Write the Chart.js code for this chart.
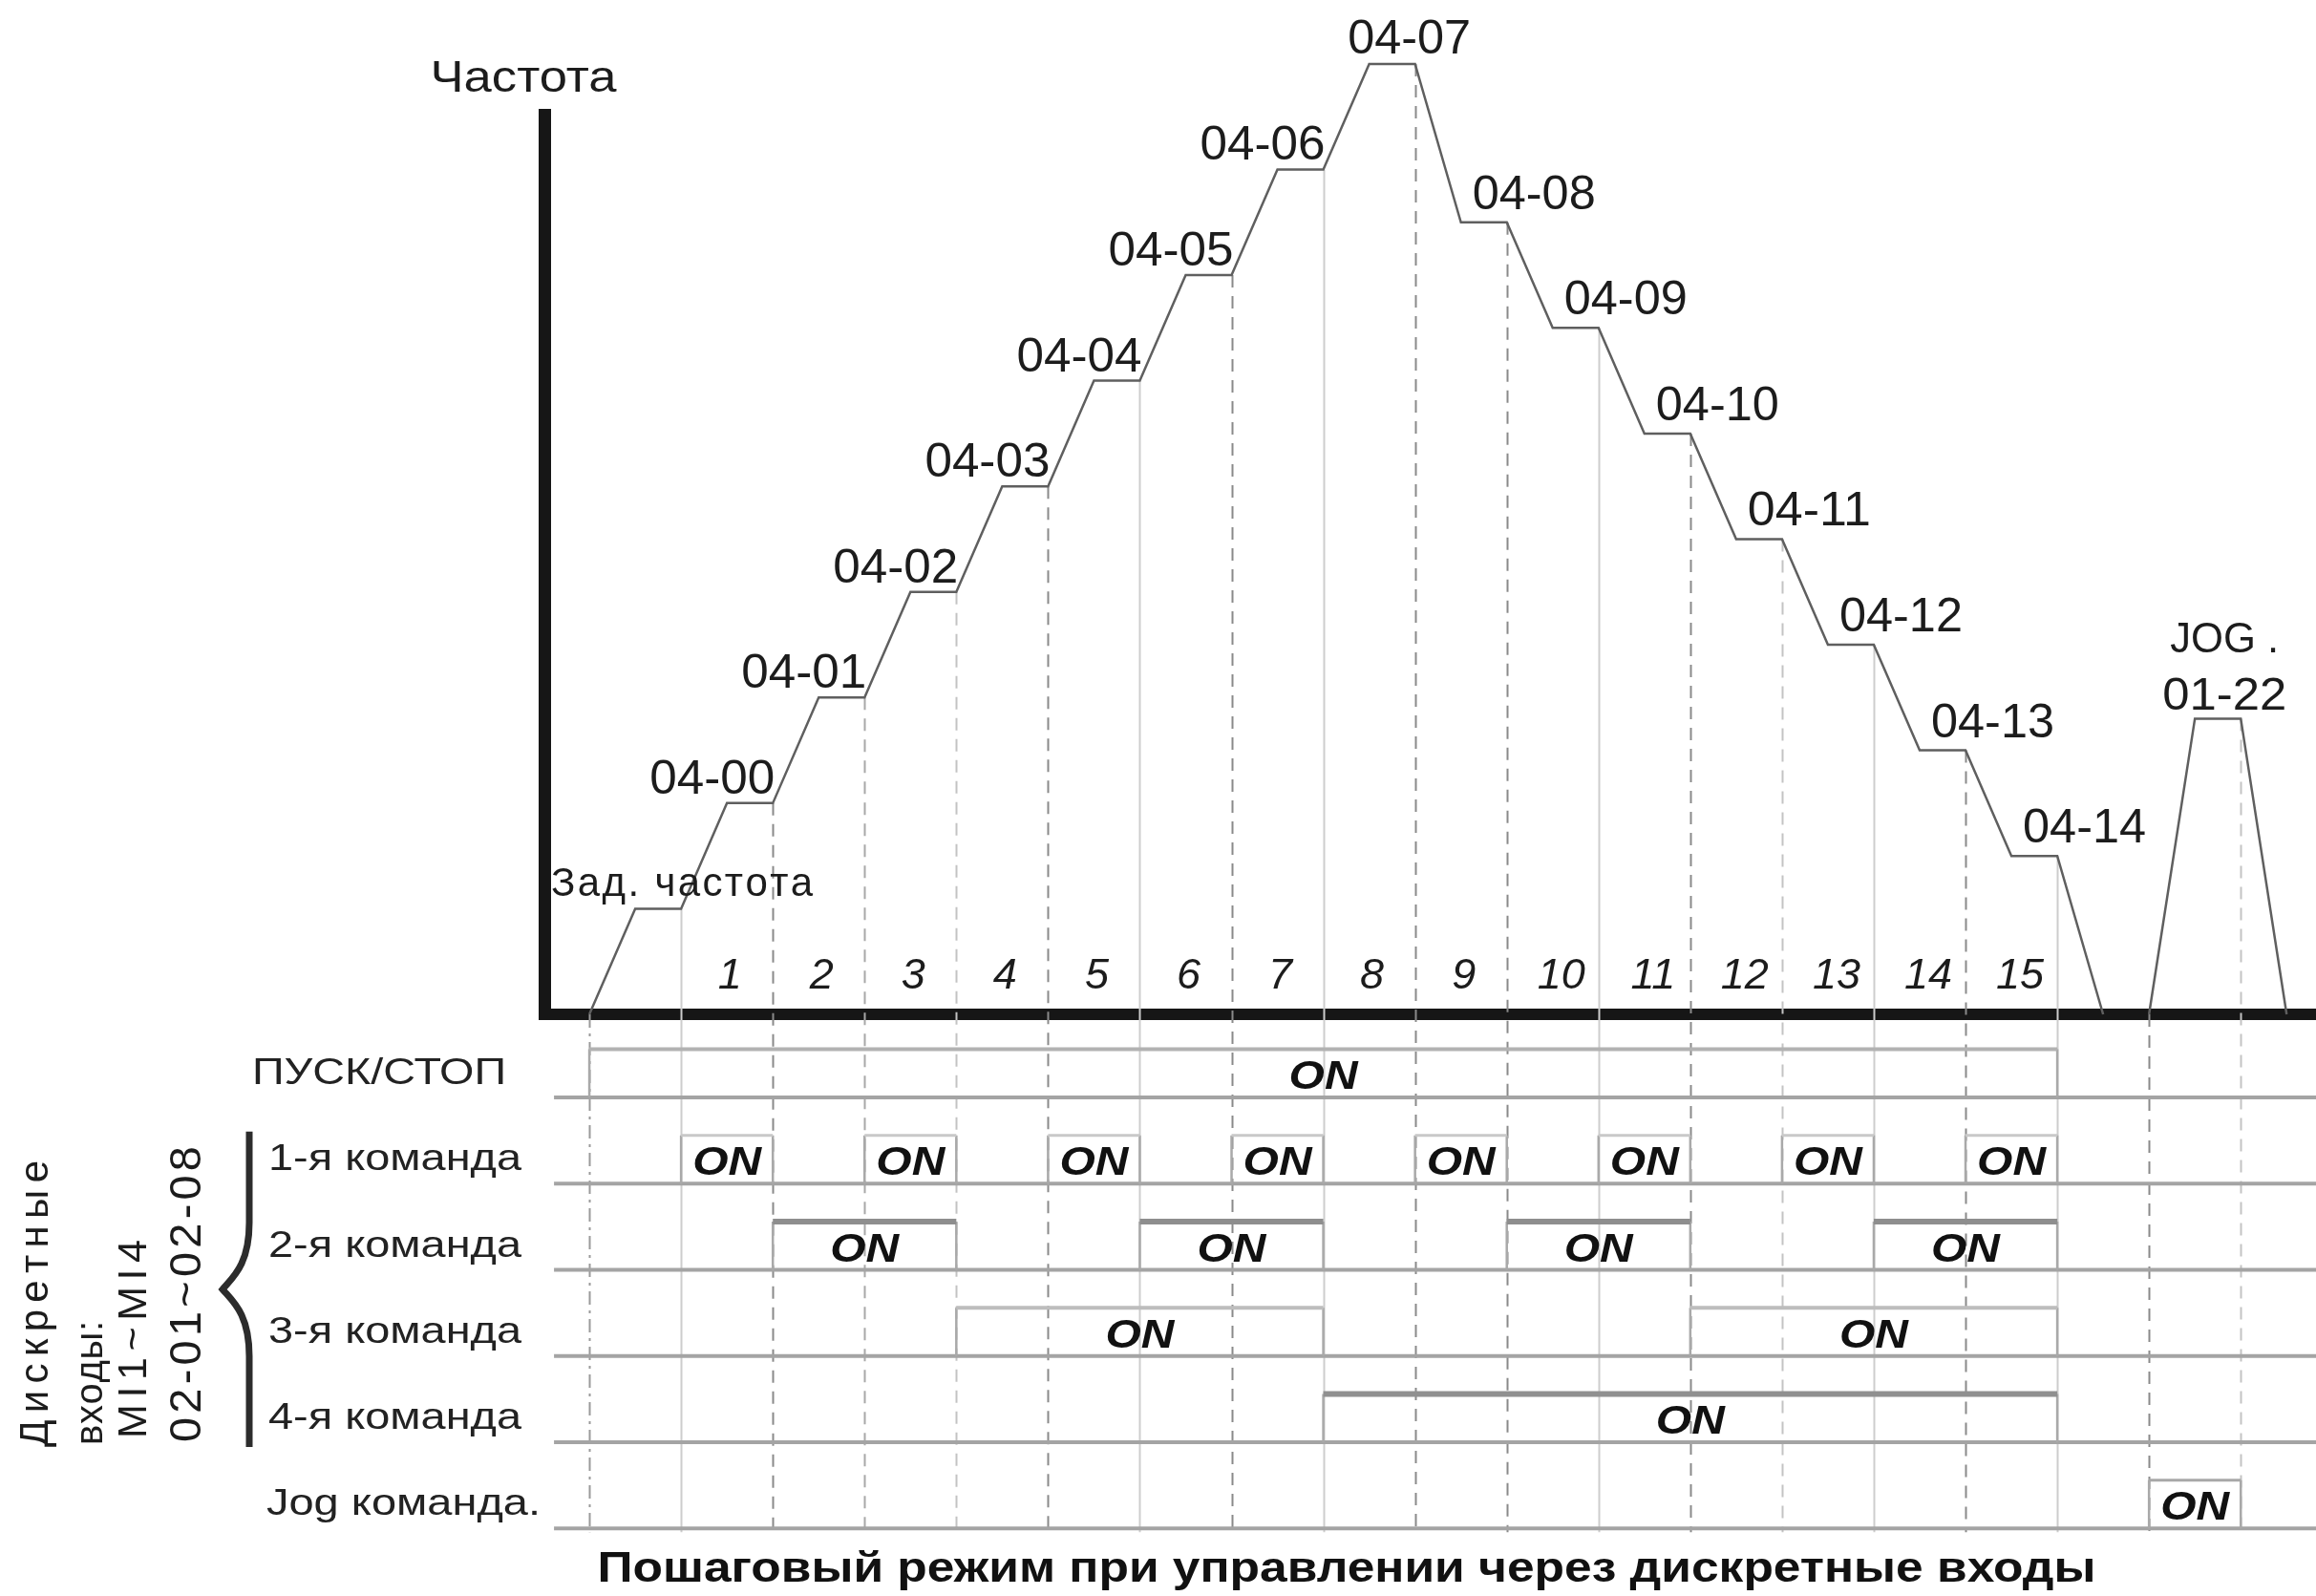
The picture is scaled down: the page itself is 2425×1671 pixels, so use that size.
<!DOCTYPE html>
<html><head><meta charset="utf-8">
<script src="https://cdn.jsdelivr.net/npm/chart.js@4/dist/chart.umd.min.js"></script>
<style>html,body{margin:0;padding:0;background:#fff;overflow:hidden}#wrap{position:relative;width:2425px;height:1671px}</style>
</head><body><div id="wrap"><canvas id="c" width="2425" height="1671"></canvas></div>
<script>
// ---------------- data ----------------
const stepLabels = ['Зад. частота','04-00','04-01','04-02','04-03','04-04','04-05','04-06','04-07','04-08','04-09','04-10','04-11','04-12','04-13','04-14'];
const stepLevels = [1.0, 2.0, 3.0, 4.0, 5.0, 6.0, 7.0, 8.0, 9.0, 7.5, 6.5, 5.5, 4.5, 3.5, 2.5, 1.5];
const stepNumbers = ['1','2','3','4','5','6','7','8','9','10','11','12','13','14','15'];
const rampTime = 0.5;
const jogLabel = ['JOG .','01-22'];
const jogLevel = 2.8;
const axisTitle = 'Частота';
const rowLabels = ['ПУСК/СТОП','1-я команда','2-я команда','3-я команда','4-я команда','Jog команда.'];
const runStopOn = [[0,16]];
const cmd1On = [[1,2],[3,4],[5,6],[7,8],[9,10],[11,12],[13,14],[15,16]];
const cmd2On = [[2,4],[6,8],[10,12],[14,16]];
const cmd3On = [[4,8],[12,16]];
const cmd4On = [[8,16]];
const jogOn = [[17,18]];
const onText = 'ON';
const sideTitle = ['Дискретные','входы:','MI1~MI4','02-01~02-08'];
const chartTitle = 'Пошаговый режим при управлении через дискретные входы';

// ---------------- layout / style constants ----------------
const FONT = "'Liberation Sans', Arial, sans-serif";
const X_MIN = -0.49, X_MAX = 18.82;
const Y_MAX = 8.52;
const ROW_MIN = -10.40, ROW_MAX = 0.036;
const PULSE_HIGH = 0.56;
const ROW_LINE_START = -0.385;
const rowSignals = [runStopOn, cmd1On, cmd2On, cmd3On, cmd4On, jogOn];
const topStyle = [
  {c:'#b2b2b2', w:4}, {c:'#c9c9c9', w:3}, {c:'#8e8e8e', w:6},
  {c:'#bdbdbd', w:4}, {c:'#909090', w:6}, {c:'#a8a8a8', w:3}
];
const guideStyle = ['dd','ls','d','m','l','d','ls','d','ls','d','d','ls','d','l','ls','d','ls','d','l'];

// ---------------- build datasets ----------------
const profile = [{x:0, y:0}];
stepLevels.forEach((v, k) => { profile.push({x:k + rampTime, y:v}, {x:k + 1, y:v}); });
profile.push({x:stepLevels.length + rampTime, y:0});
profile.push({x:stepLevels.length + rampTime + 0.1, y:null});
jogOn.forEach(([a,b]) => { profile.push({x:a, y:0}, {x:a + rampTime, y:jogLevel}, {x:b, y:jogLevel}, {x:b + rampTime, y:0}); });

const datasets = [];
datasets.push({label:'freq', data:profile, yAxisID:'y', borderColor:'#5f5f5f', borderWidth:2.5,
  pointRadius:0, tension:0, spanGaps:false, clip:false, order:1});

rowSignals.forEach((ons, i) => {
  const v = i + 1;
  const base = [{x:ROW_LINE_START, y:v}, {x:X_MAX, y:v}];
  datasets.push({label:'base'+i, data:base, yAxisID:'yRow', borderColor:'#a4a4a4', borderWidth:4,
    pointRadius:0, clip:false, order:10});
  const tops = [], sides = [];
  ons.forEach(([a,b]) => {
    tops.push({x:a, y:v - PULSE_HIGH}, {x:b, y:v - PULSE_HIGH}, {x:b, y:null});
    sides.push({x:a, y:v}, {x:a, y:v - PULSE_HIGH}, {x:a, y:null}, {x:b, y:v - PULSE_HIGH}, {x:b, y:v}, {x:b, y:null});
  });
  datasets.push({label:'top'+i, data:tops, yAxisID:'yRow', borderColor:topStyle[i].c, borderWidth:topStyle[i].w,
    pointRadius:0, spanGaps:false, clip:false, order:5});
  datasets.push({label:'side'+i, data:sides, yAxisID:'yRow', borderColor:'#a9a9a9', borderWidth:2.5,
    pointRadius:0, spanGaps:false, clip:false, order:6});
});

// ---------------- helpers ----------------
// draws text fitted to a target width: 'ls' mode uses letter spacing, default mode stretches horizontally
function drawText(ctx, s, x, y, o) {
  ctx.save();
  ctx.font = o.font;
  ctx.fillStyle = o.color || '#1c1c1c';
  ctx.textBaseline = 'alphabetic';
  ctx.textAlign = 'left';
  const chars = Array.from(s);
  ctx.translate(x, y);
  if (o.rotate) ctx.rotate(o.rotate);
  if (o.mode === 'ls') {
    const cw = chars.map(ch => ctx.measureText(ch).width);
    const sum = cw.reduce((a,b) => a + b, 0);
    const ls = o.width ? (o.width - sum) / Math.max(1, chars.length - 1) : 0;
    const w = o.width || sum;
    let cx = o.align === 'center' ? -w / 2 : (o.align === 'right' ? -w : 0);
    chars.forEach((ch, i) => { ctx.fillText(ch, cx, 0); cx += cw[i] + ls; });
  } else {
    const nat = ctx.measureText(s).width;
    const w = o.width || nat;
    const sx = w / nat;
    const x0 = o.align === 'center' ? -w / 2 : (o.align === 'right' ? -w : 0);
    ctx.translate(x0, 0);
    ctx.scale(sx, 1);
    ctx.fillText(s, 0, 0);
  }
  ctx.restore();
}

const guidePlugin = {
  id: 'guides',
  beforeDatasetsDraw(chart) {
    const ctx = chart.ctx, xs = chart.scales.x, ys = chart.scales.y, yr = chart.scales.yRow;
    const bounds = [], tops = [];
    for (let k = 0; k <= stepLevels.length; k++) { bounds.push(k); tops.push(k === 0 ? 0 : stepLevels[k - 1]); }
    jogOn.forEach(([a,b]) => { bounds.push(a, b); tops.push(0, jogLevel); });
    const yBottom = yr.getPixelForValue(rowLabels.length) + 4;
    bounds.forEach((t, i) => {
      const st = guideStyle[i] || 'l';
      const x = Math.round(xs.getPixelForValue(t)) + 0.5;
      ctx.save();
      ctx.lineWidth = 2;
      if (st === 'd') { ctx.strokeStyle = '#8a8a8a'; ctx.setLineDash([13, 9]); }
      else if (st === 'm') { ctx.strokeStyle = '#a8a8a8'; ctx.setLineDash([13, 9]); }
      else if (st === 'l') { ctx.strokeStyle = '#c3c3c3'; ctx.setLineDash([13, 9]); }
      else if (st === 'dd') { ctx.strokeStyle = '#9a9a9a'; ctx.setLineDash([14, 6, 3, 6]); }
      else { ctx.strokeStyle = '#cdcdcd'; ctx.setLineDash([]); }
      ctx.beginPath();
      ctx.moveTo(x, ys.getPixelForValue(tops[i]));
      ctx.lineTo(x, yBottom);
      ctx.stroke();
      ctx.restore();
    });
  }
};

const textPlugin = {
  id: 'texts',
  afterDraw(chart) {
    const ctx = chart.ctx, xs = chart.scales.x, ys = chart.scales.y, yr = chart.scales.yRow;
    const area = chart.chartArea;
    // axis title
    drawText(ctx, axisTitle, area.left - 22, area.top - 24, {font:'46px ' + FONT, width:195, align:'center'});
    // level labels
    const peak = stepLevels.indexOf(Math.max(...stepLevels));
    stepLabels.forEach((lab, k) => {
      const yv = ys.getPixelForValue(stepLevels[k]);
      const xs0 = xs.getPixelForValue(k + rampTime), xe = xs.getPixelForValue(k + 1);
      if (k === 0) drawText(ctx, lab, xs0 - 88, yv - 13, {font:'42px ' + FONT, width:274, align:'left', mode:'ls'});
      else if (k < peak) drawText(ctx, lab, xe + 2, yv - 10, {font:'50px ' + FONT, width:131, align:'right'});
      else if (k === peak) drawText(ctx, lab, (xs0 + xe) / 2 + 18, yv - 11, {font:'50px ' + FONT, width:129, align:'center'});
      else drawText(ctx, lab, xs0 + 12, yv - 14, {font:'50px ' + FONT, width:129, align:'left'});
    });
    // jog label
    jogOn.forEach(([a,b]) => {
      const cx = xs.getPixelForValue((a + rampTime + b) / 2) + 7;
      const yv = ys.getPixelForValue(jogLevel);
      drawText(ctx, jogLabel[0], cx, yv - 69, {font:'44px ' + FONT, width:114, align:'center'});
      drawText(ctx, jogLabel[1], cx, yv - 9, {font:'48px ' + FONT, width:130, align:'center'});
    });
    // step numbers
    const y0 = ys.getPixelForValue(0);
    stepNumbers.forEach((n, i) => {
      const k = i + 1;
      const cx = xs.getPixelForValue(k + 0.5) + (n.length > 1 ? 9 : 3);
      drawText(ctx, n, cx, y0 - 27, {font:'italic 45px ' + FONT, align:'center'});
    });
    // row labels and ON texts
    rowLabels.forEach((lab, i) => {
      const yb = yr.getPixelForValue(i + 1);
      let lx = 281, w = 265;
      if (i === 0) { lx = 264; w = 266; }
      if (i === rowLabels.length - 1) { lx = 279; w = 287; }
      drawText(ctx, lab, lx, yb - 14, {font:'39px ' + FONT, width:w, align:'left', color:'#222'});
      rowSignals[i].forEach(([a,b]) => {
        const cx = xs.getPixelForValue((a + b) / 2);
        drawText(ctx, onText, cx, yb - 9, {font:'italic bold 43px ' + FONT, width:72, align:'center', color:'#111'});
      });
    });
    // brace
    const bTop = yr.getPixelForValue(2 - PULSE_HIGH) - 4;
    const bBot = yr.getPixelForValue(5) + 5;
    const mid = (bTop + bBot) / 2;
    const bx = 261, tip = 233;
    ctx.save();
    ctx.strokeStyle = '#2c2c2c'; ctx.lineWidth = 7; ctx.lineCap = 'butt';
    ctx.beginPath();
    ctx.moveTo(bx, bTop);
    ctx.lineTo(bx, mid - 70);
    ctx.bezierCurveTo(bx, mid - 25, tip + 10, mid - 12, tip, mid);
    ctx.bezierCurveTo(tip + 10, mid + 12, bx, mid + 25, bx, mid + 70);
    ctx.lineTo(bx, bBot);
    ctx.stroke();
    ctx.restore();
    // rotated side title
    const rot = -Math.PI / 2;
    drawText(ctx, sideTitle[0], 50, 1515, {font:'42px ' + FONT, width:300, rotate:rot, mode:'ls'});
    drawText(ctx, sideTitle[1], 107, 1513, {font:'40px ' + FONT, width:130, rotate:rot, mode:'ls'});
    drawText(ctx, sideTitle[2], 153, 1506, {font:'43px ' + FONT, width:208, rotate:rot, mode:'ls'});
    drawText(ctx, sideTitle[3], 210, 1510, {font:'47px ' + FONT, width:310, rotate:rot, mode:'ls'});
    // bottom title
    drawText(ctx, chartTitle, 1410, 1656, {font:'bold 45px ' + FONT, width:1569, align:'center', color:'#111'});
  }
};

new Chart(document.getElementById('c'), {
  type: 'line',
  data: { datasets },
  options: {
    responsive: false, animation: false, devicePixelRatio: 1,
    layout: { padding: { left: 570, top: 120, right: 0, bottom: 609 } },
    plugins: { legend: { display: false }, tooltip: { enabled: false }, title: { display: false } },
    events: [],
    scales: {
      x: { type: 'linear', min: X_MIN, max: X_MAX, grid: { display: false }, ticks: { display: false },
           border: { display: true, width: 12, color: '#161616' }, z: 1, afterFit(s) { s.height = 0; } },
      y: { type: 'linear', position: 'left', min: 0, max: Y_MAX, grid: { display: false }, ticks: { display: false },
           border: { display: true, width: 13, color: '#161616' }, z: 1, afterFit(s) { s.width = 0; } },
      yRow: { type: 'linear', display: false, reverse: true, min: ROW_MIN, max: ROW_MAX }
    }
  },
  plugins: [guidePlugin, textPlugin]
});
</script></body></html>
